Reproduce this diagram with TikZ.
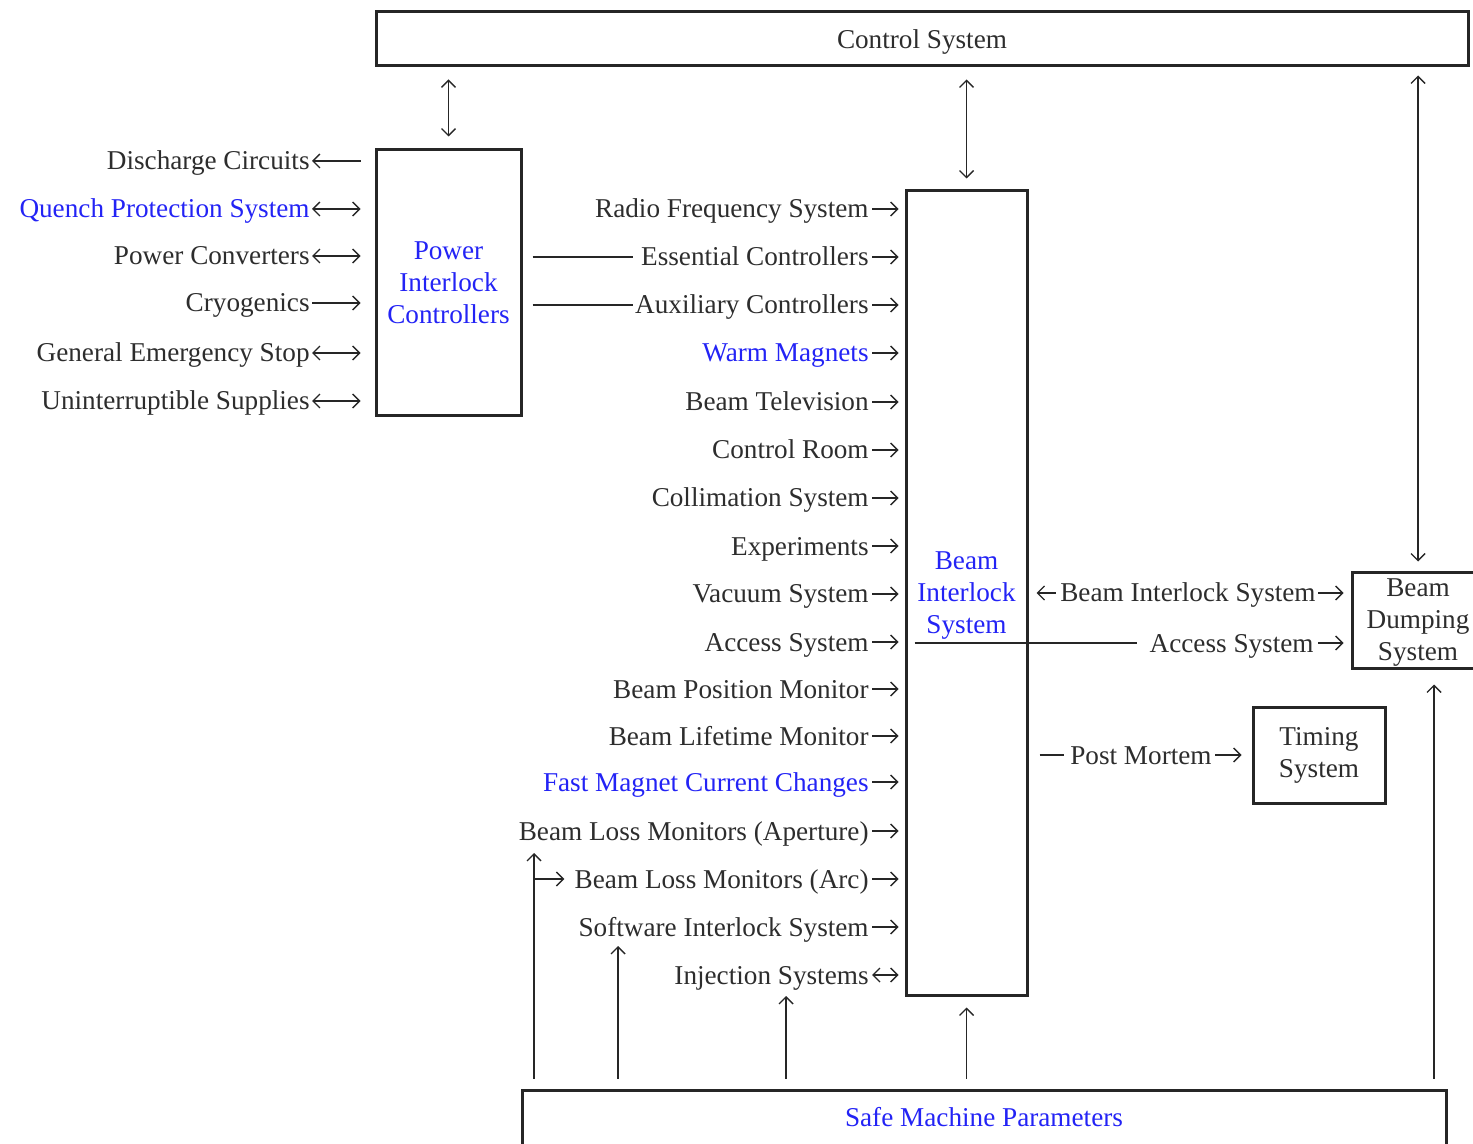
\documentclass[tikz,border=0pt]{standalone}
\usepackage{fontspec}
\setmainfont{Liberation Serif}
\usetikzlibrary{arrows.meta}
\definecolor{txt}{RGB}{45,45,45}
\definecolor{bl}{RGB}{35,35,245}
\begin{document}
\begin{tikzpicture}[x=0.5pt,y=-0.5pt,
  font=\fontsize{13.6}{16}\selectfont,
  >={Straight Barb[length=3.5pt,width=7pt]},
  box/.style={draw=black!85, line width=1.5pt, inner sep=0pt, align=center, text=txt},
  lbl/.style={anchor=east, inner sep=0pt, text height=9pt, text depth=0pt, text=txt},
  ar/.style={line width=0.7pt, draw=black!85},
  blue/.style={text=bl}]
\clip (0,0) rectangle (1473,1144);
\path[use as bounding box] (0,0) rectangle (1473,1144);

% boxes
\node[box, text depth=0pt, minimum width=546pt, minimum height=27pt] (cs) at (922,39) {Control System};
\node[box, blue, minimum width=72.5pt, minimum height=133pt] (pic) at (448.5,283) {Power\\Interlock\\Controllers};
\node[box, blue, text depth=0pt, minimum width=60.5pt, minimum height=402pt] (bis) at (966.5,593) {Beam\\Interlock\\System};
\node[box, text depth=0pt, minimum width=66pt, minimum height=48pt] (bds) at (1418,620) {Beam\\Dumping\\System};
\node[box, minimum width=66pt, minimum height=48pt] (ts) at (1319,755) {Timing\\System};
\node[box, blue, text depth=3pt, minimum width=462pt, minimum height=30pt] (smp) at (984,1120) {Safe Machine Parameters};

% control system links
\draw[ar,<->] ([yshift=-6pt]cs.south -| pic.north) -- ([yshift=6pt]pic.north);
\draw[ar,<->] ([yshift=-6pt]cs.south -| bis.north) -- ([yshift=5.5pt]bis.north);
\draw[ar,<->] ([yshift=-4pt]cs.south -| bds.north) -- ([yshift=4.5pt]bds.north);

% left labels
\node[lbl] (dc) at (310,161) {Discharge Circuits};
\node[lbl, blue] (qps) at (310,209) {Quench Protection System};
\node[lbl] (pc) at (310,256) {Power Converters};
\node[lbl] (cry) at (310,303) {Cryogenics};
\node[lbl] (ges) at (310,353) {General Emergency Stop};
\node[lbl] (ups) at (310,401) {Uninterruptible Supplies};
\draw[ar,<-] ([xshift=1pt]dc.east) -- ([xshift=-7pt]dc.east -| pic.west);
\draw[ar,<->] ([xshift=1pt]qps.east) -- ([xshift=-7pt]qps.east -| pic.west);
\draw[ar,<->] ([xshift=1pt]pc.east) -- ([xshift=-7pt]pc.east -| pic.west);
\draw[ar,->] ([xshift=1pt]cry.east) -- ([xshift=-7pt]cry.east -| pic.west);
\draw[ar,<->] ([xshift=1pt]ges.east) -- ([xshift=-7pt]ges.east -| pic.west);
\draw[ar,<->] ([xshift=1pt]ups.east) -- ([xshift=-7pt]ups.east -| pic.west);

% middle labels
\node[lbl] (rf) at (869,209) {Radio Frequency System};
\node[lbl] (ec) at (869,257) {Essential Controllers};
\node[lbl] (ac) at (869,305) {Auxiliary Controllers};
\node[lbl, blue] (wm) at (869,353) {Warm Magnets};
\node[lbl] (bt) at (869,402) {Beam Television};
\node[lbl] (cr) at (869,450) {Control Room};
\node[lbl] (col) at (869,498) {Collimation System};
\node[lbl] (exp) at (869,546) {Experiments};
\node[lbl] (vac) at (869,594) {Vacuum System};
\node[lbl] (acc) at (869,642) {Access System};
\node[lbl] (bpm) at (869,689) {Beam Position Monitor};
\node[lbl] (blt) at (869,736) {Beam Lifetime Monitor};
\node[lbl, blue] (fmc) at (869,782) {Fast Magnet Current Changes};
\node[lbl] (blap) at (869,831) {Beam Loss Monitors (Aperture)};
\node[lbl] (blarc) at (869,879) {Beam Loss Monitors (Arc)};
\node[lbl] (sis) at (869,927) {Software Interlock System};
\node[lbl] (inj) at (869,975) {Injection Systems};
\foreach \n in {rf,ec,ac,wm,bt,cr,col,exp,vac,acc,bpm,blt,fmc,blap,blarc,sis}
  \draw[ar,->] ([xshift=1.5pt]\n.east) -- ([xshift=-3pt]\n.east -| bis.west);
\draw[ar,<->] ([xshift=1.5pt]inj.east) -- ([xshift=-3pt]inj.east -| bis.west);
\draw[ar] ([xshift=5pt]ec.west -| pic.east) -- ([xshift=-4pt]ec.west);
\draw[ar] ([xshift=5pt]ac.west -| pic.east) -- ([xshift=-1pt]ac.west);

% right of BIS
\node[lbl] (bisr) at (1316,593) {Beam Interlock System};
\node[lbl] (acr) at (1314,643) {Access System};
\node[lbl] (pm) at (1212,755) {Post Mortem};
\draw[ar,<-] ([xshift=4pt]bis.east |- bisr) -- ([xshift=-2pt]bisr.west);
\draw[ar,->] ([xshift=1pt]bisr.east) -- ([xshift=-3.5pt]bds.west |- bisr);
\draw[ar] ([xshift=5pt]bis.west |- acr) -- ([xshift=-6pt]acr.west);
\draw[ar,->] ([xshift=2pt]acr.east) -- ([xshift=-3.5pt]bds.west |- acr);
\draw[ar] ([xshift=5.5pt]bis.east |- pm) -- ([xshift=-3pt]pm.west);
\draw[ar,->] ([xshift=1.5pt]pm.east) -- ([xshift=-5pt]ts.west |- pm);

% from safe machine parameters
\coordinate (vA) at (534,853);
\coordinate (vB) at (618,946);
\coordinate (vC) at (786,996);
\coordinate (vE) at (1434,0);
\draw[ar,->] ([yshift=5pt]smp.north -| vA) -- (vA);
\draw[ar,->] (vA |- blarc) -- ([xshift=-5pt]blarc.west);
\draw[ar,->] ([yshift=5pt]smp.north -| vB) -- (vB);
\draw[ar,->] ([yshift=5pt]smp.north -| vC) -- (vC);
\draw[ar,->] ([yshift=5pt]smp.north -| bis.south) -- ([yshift=-5.5pt]bis.south);
\draw[ar,->] ([yshift=5pt]smp.north -| vE) -- ([yshift=-7.5pt]bds.south -| vE);
\end{tikzpicture}
\end{document}
